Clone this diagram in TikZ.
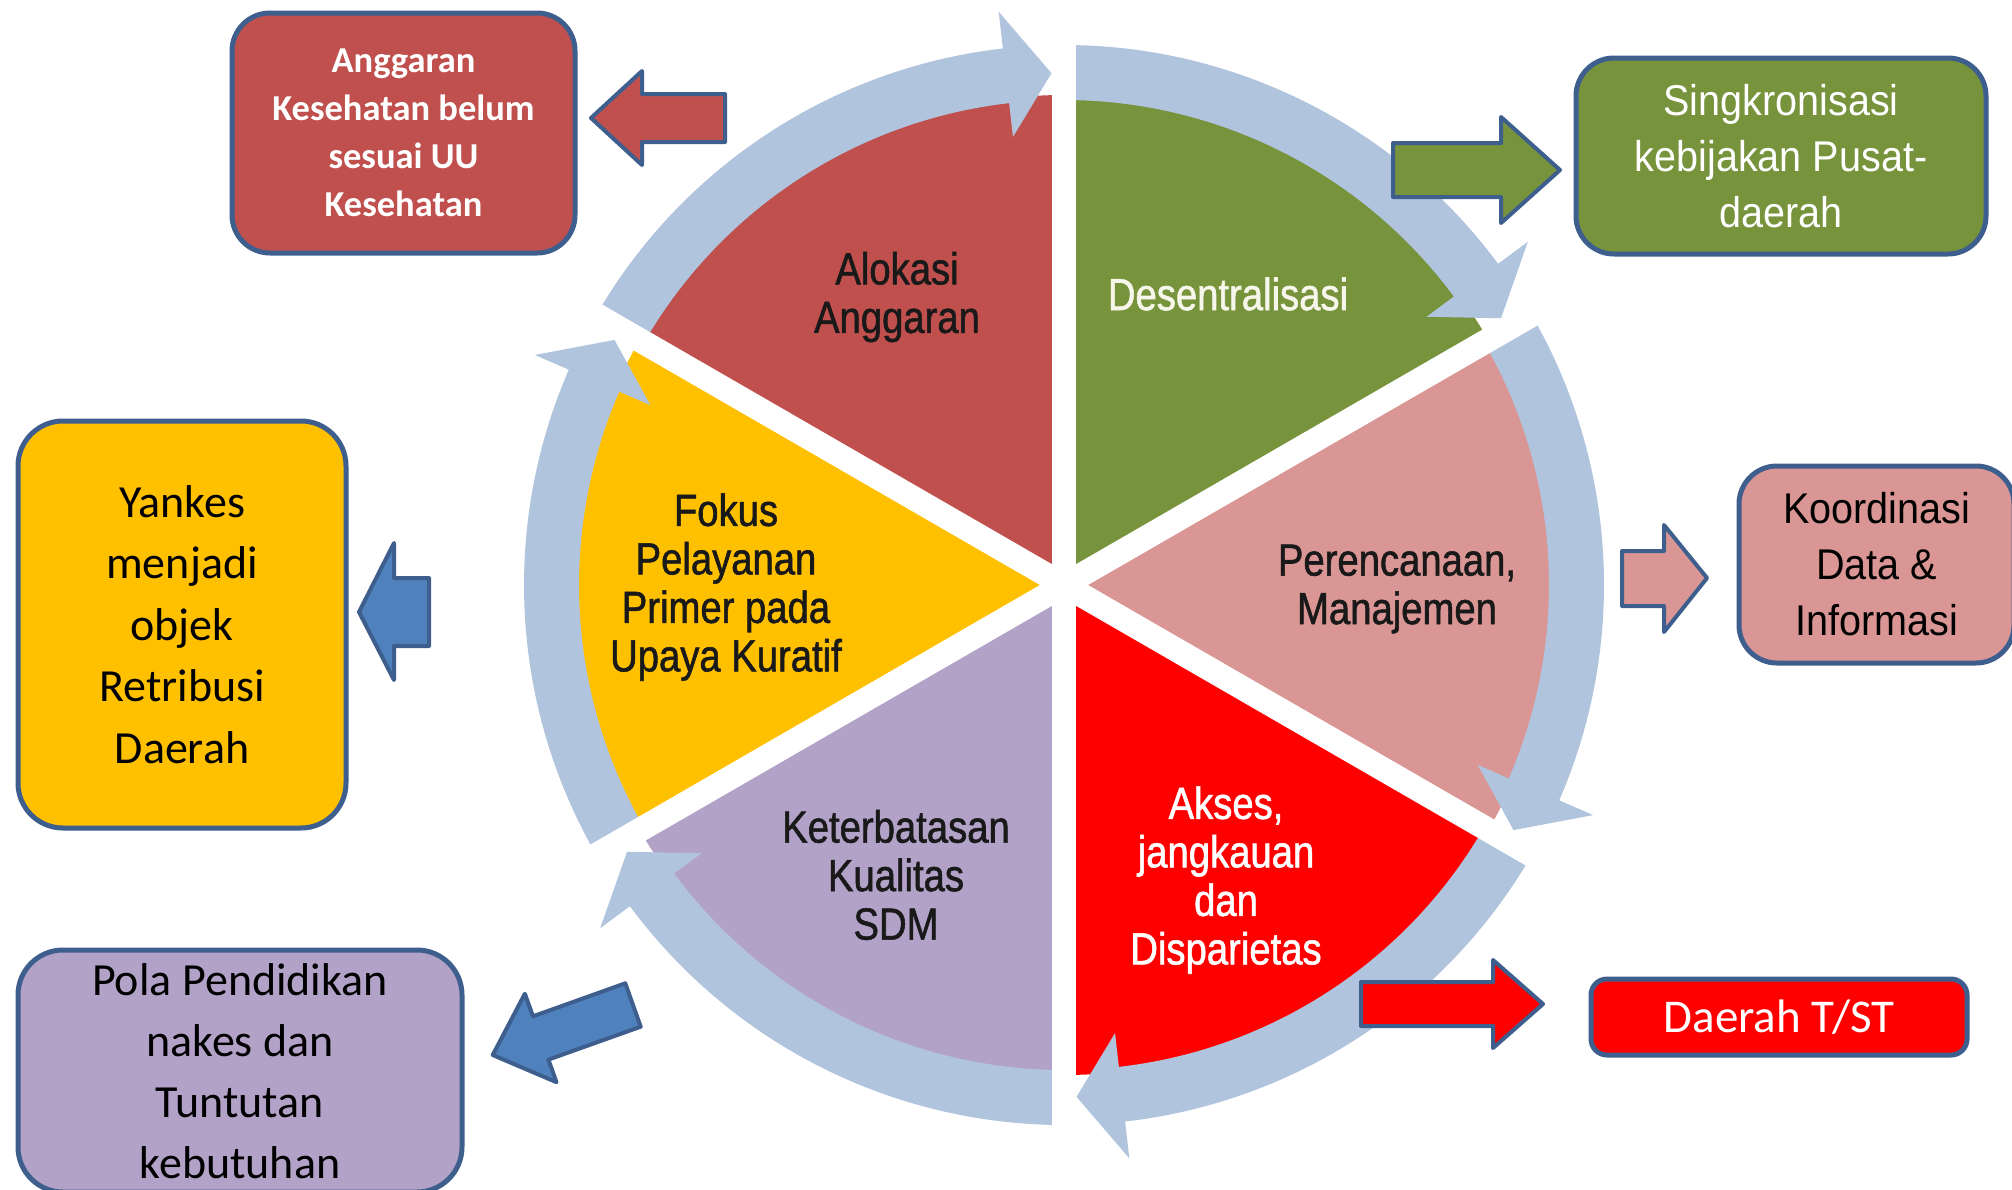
\documentclass[tikz,border=0pt]{standalone}
\usepackage{fontspec}
\newfontfamily\wheelfont[FakeStretch=0.85,FakeBold=1.2]{Liberation Sans}
\newfontfamily\arialfont[FakeStretch=0.92]{Liberation Sans}
\newfontfamily\calibrifont{Carlito}

% palette
\definecolor{sectred}{HTML}{C0504D}
\definecolor{sectgreen}{HTML}{77933C}
\definecolor{sectpink}{HTML}{D99694}
\definecolor{sectbright}{HTML}{FF0000}
\definecolor{sectpurple}{HTML}{B3A2C7}
\definecolor{sectyellow}{HTML}{FFC000}
\definecolor{ringblue}{RGB}{176,196,222}
\definecolor{boxborder}{HTML}{3E5F8E}
\definecolor{arrowblue}{HTML}{4F81BD}
\definecolor{textcream}{HTML}{F6F6EA}

\begin{document}
\begin{tikzpicture}[x=1pt,y=1pt,
  ring/.style={fill=ringblue},
  sectortext/.style={font=\wheelfont\fontsize{45}{48.5}\selectfont, align=center, inner sep=0},
  box/.style={draw=boxborder, line width=5, rounded corners=38, inner sep=0, align=center},
  blockarrow/.style={draw=boxborder, line width=4, line join=round}]

\useasboundingbox (0,0) rectangle (2012,-1189);
\clip (0,0) rectangle (2012,-1189);
\fill[white] (0,0) rectangle (2012,-1189);

% ---------- cycle wheel: six sectors, each with a clockwise ring arrow ----------
\begin{scope}[shift={(1064,-585)}]
  \foreach \as/\ae/\col in {150/90/sectred, 90/30/sectgreen, 30/-30/sectpink,
                            -30/-90/sectbright, -90/-150/sectpurple, -150/-210/sectyellow} {
    \fill[\col] (0,0) -- (\as:490) arc[start angle=\as, end angle=\ae, radius=490] -- cycle;
    \pgfmathsetmacro\barbA{\ae+6.5}
    \pgfmathsetmacro\tipA{\ae+1.4}
    \fill[ring] (\as:540) arc[start angle=\as, end angle=\barbA, radius=540]
      -- (\barbA:577) -- (\tipA:512) -- (\barbA:451) -- (\barbA:485)
      arc[start angle=\barbA, end angle=\as, radius=485] -- cycle;
  }
  % white gaps between the sectors
  \foreach \a in {30,90,...,330}
    \draw[white, line width=24] (0,0) -- (\a:620);
\end{scope}

% sector labels
\node[sectortext, text=black!90] (alokasi) at (897,-297) {Alokasi\\Anggaran};
\node[sectortext, text=textcream] (desentral) at (1228,-294) {Desentralisasi};
\node[sectortext, text=black!90] (perencanaan) at (1397,-589) {Perencanaan,\\Manajemen};
\node[sectortext, text=white] (akses) at (1226,-880) {Akses,\\jangkauan\\dan\\Disparietas};
\node[sectortext, text=black!90] (keterbatasan) at (896,-875) {Keterbatasan\\Kualitas\\SDM};
\node[sectortext, text=black!90] (fokus) at (726,-587) {Fokus\\Pelayanan\\Primer pada\\Upaya Kuratif};

% ---------- outcome boxes ----------
\node[box, fill=sectred, text=white, minimum width=343, minimum height=240,
      font=\calibrifont\bfseries\fontsize{36.5}{48}\selectfont]
  (anggaran) at (403.5,-133) {Anggaran\\Kesehatan belum\\sesuai UU\\Kesehatan};

\node[box, fill=sectgreen, text=white, minimum width=410, minimum height=196,
      font=\arialfont\fontsize{43}{56}\selectfont]
  (singkron) at (1781,-156) {Singkronisasi\\kebijakan Pusat-\\daerah};

\node[box, fill=sectpink, text=black, minimum width=275, minimum height=197,
      font=\arialfont\fontsize{43}{56}\selectfont]
  (koordinasi) at (1876.5,-564.5) {Koordinasi\\Data \&\\Informasi};

\node[box, fill=sectbright, text=white, minimum width=376, minimum height=76,
      rounded corners=16, font=\calibrifont\fontsize{47}{50}\selectfont]
  (daerahtst) at (1779,-1017) {Daerah T/ST};

\node[box, fill=sectyellow, text=black, minimum width=328, minimum height=407,
      rounded corners=45, font=\calibrifont\fontsize{46}{61.5}\selectfont]
  (yankes) at (182,-624.5) {Yankes\\menjadi\\objek\\Retribusi\\Daerah};

\node[box, fill=sectpurple, text=black, minimum width=444, minimum height=242,
      rounded corners=45, font=\calibrifont\fontsize{46}{61}\selectfont]
  (pola) at (240,-1071) {Pola Pendidikan\\nakes dan\\Tuntutan\\kebutuhan};

% ---------- block arrows ----------
% towards the budget box
\draw[blockarrow, fill=sectred]
  (591,-118) -- (642,-71) -- (642,-94) -- (725,-94) -- (725,-142)
  -- (642,-142) -- (642,-165) -- cycle;
% towards the synchronisation box
\draw[blockarrow, fill=sectgreen]
  (1393,-143) -- (1501,-143) -- (1501,-117) -- (1560,-170) -- (1501,-223)
  -- (1501,-197) -- (1393,-197) -- cycle;
% towards the coordination box
\draw[blockarrow, fill=sectpink]
  (1622,-551) -- (1664,-551) -- (1664,-525) -- (1707,-578) -- (1664,-632)
  -- (1664,-606) -- (1622,-606) -- cycle;
% towards the T/ST box
\draw[blockarrow, fill=sectbright]
  (1361,-982) -- (1493,-982) -- (1493,-960) -- (1543,-1004) -- (1493,-1048)
  -- (1493,-1026) -- (1361,-1026) -- cycle;
% towards the retribution box
\draw[blockarrow, fill=arrowblue]
  (359,-612) -- (394,-543) -- (394,-578) -- (429,-578) -- (429,-646)
  -- (394,-646) -- (394,-680) -- cycle;
% towards the education box (diagonal)
\draw[blockarrow, fill=arrowblue]
  (492.7,-1055) -- (524.9,-993.7) -- (533,-1016.3) -- (625.3,-983.3)
  -- (640.7,-1026.7) -- (548.4,-1059.6) -- (556.5,-1082.2) -- cycle;

\end{tikzpicture}
\end{document}
